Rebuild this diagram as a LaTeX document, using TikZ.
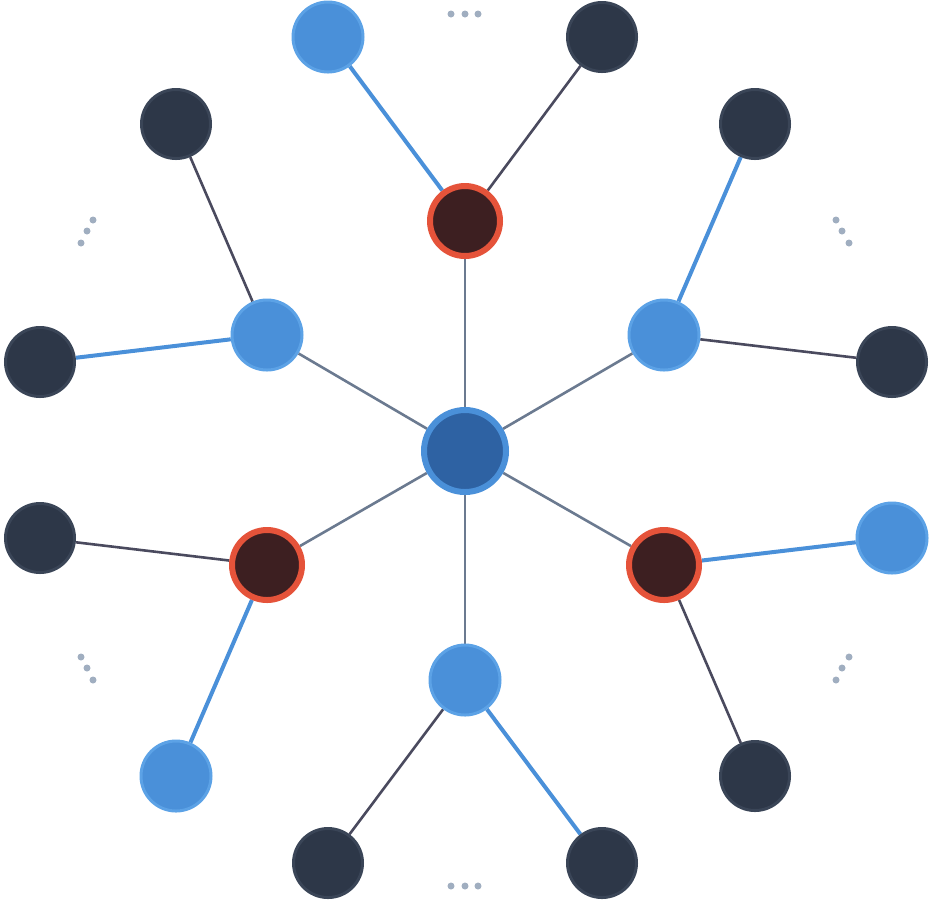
\documentclass[tikz,border=0pt]{standalone}
\usetikzlibrary{backgrounds}
\definecolor{hubfill}{HTML}{2E62A3}
\definecolor{hubline}{HTML}{4A90D9}
\definecolor{bluefill}{HTML}{4A90D9}
\definecolor{blueline}{HTML}{5CA2E6}
\definecolor{redfill}{HTML}{3D1F21}
\definecolor{redline}{HTML}{E5533A}
\definecolor{darkfill}{HTML}{2D3748}
\definecolor{darkline}{HTML}{3A4557}
\definecolor{spokecol}{HTML}{6B7A90}
\definecolor{edgecol}{HTML}{4A4A5E}
\definecolor{dotcol}{HTML}{A0AEC0}
\begin{document}
\begin{tikzpicture}[x=0.5pt,y=-0.5pt]
        \tikzstyle{hub}=[circle, fill=hubfill, draw=hubline, line width=3pt, minimum size=41pt, inner sep=0pt]
        \tikzstyle{bnode}=[circle, fill=bluefill, draw=blueline, line width=1.5pt, minimum size=35pt, inner sep=0pt]
        \tikzstyle{rnode}=[circle, fill=redfill, draw=redline, line width=3pt, minimum size=35pt, inner sep=0pt]
        \tikzstyle{dnode}=[circle, fill=darkfill, draw=darkline, line width=1.5pt, minimum size=34.5pt, inner sep=0pt]
        \tikzstyle{spokeedge}=[spokecol, line width=1.3pt]
        \tikzstyle{leafedge}=[edgecol, line width=1.3pt]
        \tikzstyle{blueedge}=[bluefill, line width=2pt]
        \tikzstyle{more}=[circle, fill=dotcol, inner sep=0pt, minimum size=3.5pt]

        \useasboundingbox (0,0) rectangle (930,902);

        % centre and first ring
        \node[hub]   (c)  at (465,451) {};
        \node[rnode] (n)  at (465,221) {};
        \node[bnode] (nw) at (267,335) {};
        \node[bnode] (ne) at (664,335) {};
        \node[rnode] (sw) at (267,565) {};
        \node[rnode] (se) at (664,565) {};
        \node[bnode] (s)  at (465,680) {};

        % leaves
        \node[bnode] (n1)  at (328,37)  {};
        \node[dnode] (n2)  at (602,37)  {};
        \node[dnode] (nw1) at (176,124) {};
        \node[dnode] (nw2) at (40,362)  {};
        \node[dnode] (ne1) at (755,124) {};
        \node[dnode] (ne2) at (892,362) {};
        \node[dnode] (sw1) at (40,538)  {};
        \node[bnode] (sw2) at (176,776) {};
        \node[bnode] (se1) at (892,538) {};
        \node[dnode] (se2) at (755,776) {};
        \node[dnode] (s1)  at (328,863) {};
        \node[dnode] (s2)  at (602,863) {};

        % dots for the omitted nodes
        \foreach \x/\y in {451/14, 465/14, 478/14, 451/886, 465/886, 478/886,
                           93/220, 87/231, 81/243, 836/220, 842/231, 849/243,
                           81/657, 87/668, 93/680, 849/657, 842/668, 836/680}
            \node[more] (dot-\x-\y) at (\x,\y) {};

        \begin{scope}[on background layer]
        \foreach \v in {n, nw, ne, sw, se, s}
            \draw[spokeedge] (c) -- (\v);

        \draw[blueedge] (n) -- (n1);
        \draw[leafedge] (n) -- (n2);
        \draw[leafedge] (nw) -- (nw1);
        \draw[blueedge] (nw) -- (nw2);
        \draw[blueedge] (ne) -- (ne1);
        \draw[leafedge] (ne) -- (ne2);
        \draw[leafedge] (sw) -- (sw1);
        \draw[blueedge] (sw) -- (sw2);
        \draw[blueedge] (se) -- (se1);
        \draw[leafedge] (se) -- (se2);
        \draw[leafedge] (s) -- (s1);
        \draw[blueedge] (s) -- (s2);
        \end{scope}
\end{tikzpicture}
\end{document}
